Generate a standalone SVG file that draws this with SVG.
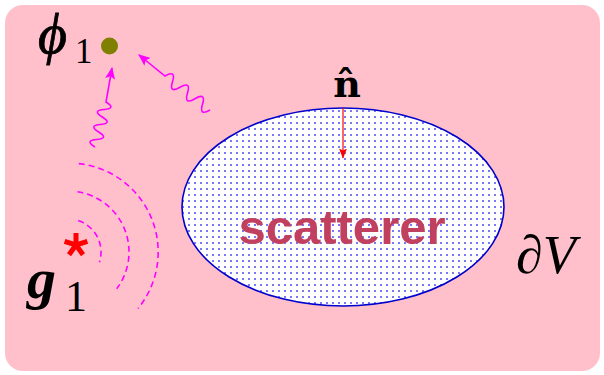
<svg xmlns="http://www.w3.org/2000/svg" width="604" height="375" viewBox="0 0 604 375">
  <style>
    .math { font-family: "Liberation Serif", "DejaVu Serif", serif; fill: #000; }
    .wave { fill: none; stroke: #FF00FF; stroke-width: 1.6; }
    .ring { fill: none; stroke: #FF00FF; stroke-width: 1.6; stroke-dasharray: 6 4; }
  </style>
  <defs>
    <pattern id="dots" width="6" height="6" patternUnits="userSpaceOnUse">
      <rect width="6" height="6" fill="#FFFFFF"/>
      <circle cx="3" cy="3" r="0.95" fill="#4040F0"/>
    </pattern>
    <marker id="mag" viewBox="0 0 12 10" markerUnits="userSpaceOnUse" markerWidth="12" markerHeight="10" refX="11" refY="5" orient="auto">
      <path d="M0,0 L12,5 L0,10 L2.5,5 z" fill="#FF00FF"/>
    </marker>
    <marker id="red" viewBox="0 0 10 8" markerUnits="userSpaceOnUse" markerWidth="10" markerHeight="8" refX="9.5" refY="4" orient="auto">
      <path d="M0,0 L10,4 L0,8 L2,4 z" fill="#FF0000"/>
    </marker>
  </defs>

  <rect id="background" x="5" y="5" width="595" height="366" rx="18" ry="18" fill="#FFC0CB"/>

  <g id="scatterer">
    <ellipse cx="343" cy="207" rx="161" ry="99" fill="url(#dots)" stroke="#0000CC" stroke-width="1.6"/>
    <text x="342" y="244" text-anchor="middle" font-family="Liberation Sans, Arial, sans-serif" font-weight="bold" font-size="49" fill="#C2405F">scatterer</text>
  </g>

  <g id="boundary-label">
    <text class="math" x="516" y="273" font-size="54" font-style="italic">∂V</text>
  </g>

  <g id="normal">
    <text x="347" y="97" text-anchor="middle" font-family="DejaVu Serif, serif" font-weight="bold" font-size="38">n̂</text>
  </g>

  <g id="phi1">
    <circle cx="109.5" cy="46" r="8.5" fill="#808000"/>
    <text class="math" x="38" y="53" font-size="56" font-style="italic" stroke="#000" stroke-width="0.8">ϕ</text>
    <text class="math" x="75" y="63" font-size="35">1</text>
  </g>

  <g id="g1">
    <g id="source-star" stroke="#FF0000" stroke-width="5" stroke-linecap="butt">
      <line x1="76" y1="245" x2="76" y2="233"/>
      <line x1="76" y1="245" x2="87.4" y2="241.3"/>
      <line x1="76" y1="245" x2="64.6" y2="241.3"/>
      <line x1="76" y1="245" x2="83" y2="254.7"/>
      <line x1="76" y1="245" x2="69" y2="254.7"/>
    </g>
    <text class="math" x="27" y="298" font-size="58" font-style="italic" font-weight="bold">g</text>
    <text class="math" x="65" y="311" font-size="44">1</text>
  </g>

  <g id="connectors">
    <path class="ring" d="M78.2,220.6 A33,33 0 0 1 99.4,262.2"/>
    <path class="ring" d="M77.5,191.7 A61,61 0 0 1 116.7,288.7"/>
    <path class="ring" d="M78.8,163.6 A89,89 0 0 1 138,308.5"/>
    <path class="wave" marker-end="url(#mag)" d="M95,147 Q84.3,140.4 96.8,139.5 T98.7,132 T100.5,124.5 T102.3,117 T104.2,109.5 T106,102 L112,68"/>
    <path class="wave" marker-end="url(#mag)" d="M210,110 Q198.7,116.5 202.5,104.3 T195,98.7 T187.5,93 T180,87.3 T172.5,81.7 T165,76 L139,55"/>
    <line x1="343" y1="108" x2="343" y2="158" stroke="#FF0000" stroke-width="1.2" marker-end="url(#red)"/>
  </g>
</svg>
